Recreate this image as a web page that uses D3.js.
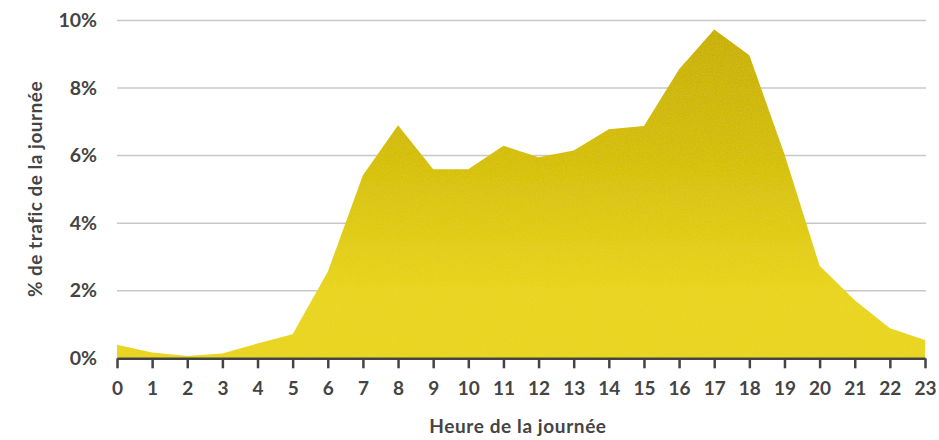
<html>
    <head>
        <script src="https://cdn.jsdelivr.net/npm/d3@7/dist/d3.min.js"></script>
        <style>
            body {
                margin: 0;
                background: #fff;
            }
            text {
                font-family: "Lato", "DejaVu Sans", sans-serif;
                font-weight: bold;
                fill: #444;
            }
        </style>
    </head>
    <body>
        <svg id="chart"></svg>
        <script>
            // heures de la journee
            var hours = [0, 1, 2, 3, 4, 5, 6, 7, 8, 9, 10, 11, 12, 13, 14, 15, 16, 17, 18, 19, 20, 21, 22, 23];
            // % de trafic de la journee par heure
            var traffic = [0.40, 0.17, 0.07, 0.14, 0.44, 0.71, 2.56, 5.42, 6.90, 5.60, 5.60, 6.29,
                           5.95, 6.15, 6.78, 6.88, 8.56, 9.73, 8.97, 6.04, 2.74, 1.72, 0.89, 0.54];
            var yTicks = [0, 2, 4, 6, 8, 10];

            var W = 939, H = 440;
            var svg = d3.select("#chart")
                .attr("width", W)
                .attr("height", H);

            var x = d3.scaleLinear().domain([0, 23]).range([117, 925]);
            var y = d3.scaleLinear().domain([0, 10]).range([358.3, 20.5]);

            // degrade du remplissage
            var defs = svg.append("defs");
            var grad = defs.append("linearGradient")
                .attr("id", "fillGrad")
                .attr("gradientUnits", "userSpaceOnUse")
                .attr("x1", 0).attr("y1", y(10))
                .attr("x2", 0).attr("y2", y(2));
            grad.append("stop").attr("offset", "0%").attr("stop-color", "#c6ad00");
            grad.append("stop").attr("offset", "45%").attr("stop-color", "#d2bb0c");
            grad.append("stop").attr("offset", "100%").attr("stop-color", "#e8d420");

            // grain leger
            var filt = defs.append("filter").attr("id", "grain")
                .attr("x", 0).attr("y", 0).attr("width", 1).attr("height", 1);
            filt.append("feTurbulence")
                .attr("type", "fractalNoise")
                .attr("baseFrequency", 0.9)
                .attr("numOctaves", 2)
                .attr("result", "noise");
            filt.append("feColorMatrix")
                .attr("in", "noise")
                .attr("type", "matrix")
                .attr("values", "0 0 0 0 0.93  0 0 0 0 0.84  0 0 0 0 0.1  0 0 0 0.3 -0.1")
                .attr("result", "tint");
            filt.append("feComposite")
                .attr("in", "tint").attr("in2", "SourceGraphic")
                .attr("operator", "in").attr("result", "tintIn");
            filt.append("feMerge").selectAll("feMergeNode")
                .data(["SourceGraphic", "tintIn"])
                .join("feMergeNode")
                .attr("in", function (d) { return d; });

            // grille
            svg.append("g")
                .selectAll("line")
                .data(yTicks.filter(function (d) { return d > 0; }))
                .join("line")
                .attr("x1", x(0))
                .attr("x2", 926)
                .attr("y1", function (d) { return y(d); })
                .attr("y2", function (d) { return y(d); })
                .attr("stroke", "#c8c8c8")
                .attr("stroke-width", 1.5);

            // aire
            var area = d3.area()
                .x(function (d, i) { return x(hours[i]); })
                .y0(y(0))
                .y1(function (d) { return y(d); });

            svg.append("path")
                .datum(traffic)
                .attr("d", area)
                .attr("fill", "url(#fillGrad)")
                .attr("filter", "url(#grain)");

            // axe x
            var xAxis = d3.axisBottom(x)
                .tickValues(hours)
                .tickFormat(d3.format("d"))
                .tickSizeInner(10)
                .tickSizeOuter(0)
                .tickPadding(13);
            var gx = svg.append("g")
                .attr("transform", "translate(0," + y(0) + ")")
                .call(xAxis);
            gx.select(".domain").attr("stroke", "#444").attr("stroke-width", 2.5);
            gx.selectAll(".tick line").attr("stroke", "#444").attr("stroke-width", 2.5);
            gx.selectAll(".tick text")
                .attr("fill", "#444")
                .style("font-size", "19px")
                .style("font-family", "Lato, sans-serif")
                .style("font-weight", "bold");

            // axe y (libelles seulement)
            var yAxis = d3.axisLeft(y)
                .tickValues(yTicks)
                .tickFormat(function (d) { return d + "%"; })
                .tickSize(0)
                .tickPadding(0);
            var gy = svg.append("g")
                .attr("transform", "translate(97,0)")
                .call(yAxis);
            gy.select(".domain").remove();
            gy.selectAll(".tick text")
                .attr("fill", "#444")
                .style("font-size", "19.5px")
                .style("font-family", "Lato, sans-serif")
                .style("font-weight", "bold");

            // titres des axes
            svg.append("text")
                .attr("text-anchor", "middle")
                .attr("x", 518)
                .attr("y", 433)
                .style("font-size", "19px")
                .style("letter-spacing", "0.6px")
                .text("Heure de la journée");

            svg.append("text")
                .attr("text-anchor", "middle")
                .attr("transform", "translate(42,189) rotate(-90)")
                .style("font-size", "19px")
                .style("letter-spacing", "0.5px")
                .text("% de trafic de la journée");
        </script>
    </body>
</html>
